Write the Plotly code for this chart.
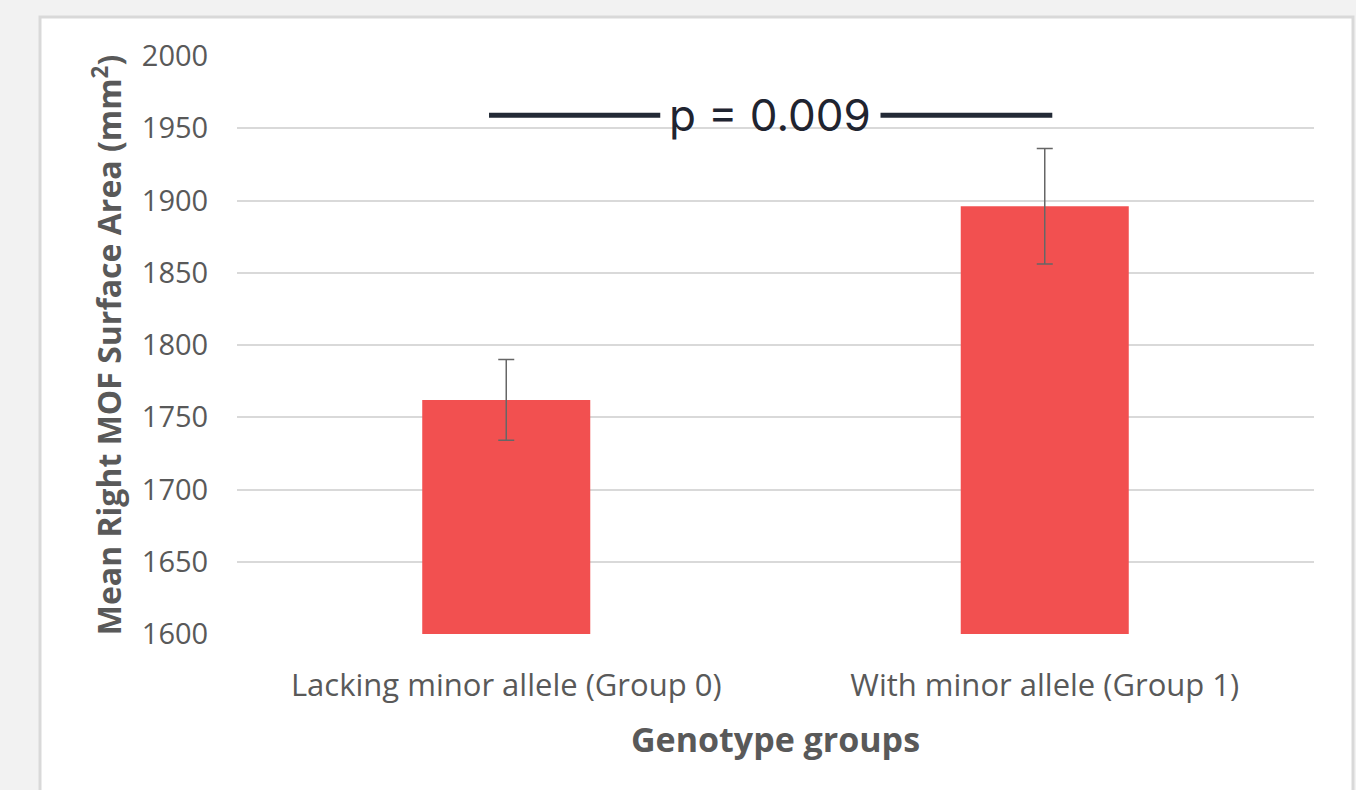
import plotly.graph_objects as go

categories = ["Lacking minor allele (Group 0)", "With minor allele (Group 1)"]
means = [1762, 1896]
errors = [28, 40]
y_ticks = [1600, 1650, 1700, 1750, 1800, 1850, 1900, 1950, 2000]
p_label = "p = 0.009"
p_line_y = 1959

W, H = 1356, 790
L, R, T, B = 237, 42, 56, 156
pw, ph = W - L - R, H - T - B

def px(xp):
    return (xp - L) / pw

def py(yp):
    return (H - B - yp) / ph

fig = go.Figure()
fig.add_trace(go.Bar(
    x=categories, y=means,
    marker=dict(color="#F25050", line=dict(width=0)),
    error_y=dict(type="data", array=errors, visible=True,
                 color="#666666", thickness=1.5, width=8),
    width=0.312,
))

shapes = [
    dict(type="rect", xref="paper", yref="paper", layer="below",
         x0=px(40), x1=px(1353), y0=py(830), y1=py(17),
         fillcolor="white", line=dict(color="#d9d9d9", width=3)),
    dict(type="line", xref="x", yref="y", x0=-0.032, x1=0.286,
         y0=p_line_y, y1=p_line_y, line=dict(color="#232a36", width=5)),
    dict(type="line", xref="x", yref="y", x0=0.695, x1=1.014,
         y0=p_line_y, y1=p_line_y, line=dict(color="#232a36", width=5)),
]

fig.update_layout(
    width=W, height=H,
    margin=dict(l=L, r=R, t=T, b=B, autoexpand=False),
    paper_bgcolor="#f2f2f2", plot_bgcolor="white",
    showlegend=False,
    shapes=shapes,
    font=dict(family="Open Sans", color="#595959"),
    annotations=[dict(x=0.49, y=p_line_y, xref="x", yref="y", text=p_label,
                      showarrow=False, xanchor="center", yanchor="middle",
                      font=dict(family="Inter", size=44, color="#1f2430"))],
)
fig.update_xaxes(
    type="category", range=[-0.5, 1.5],
    showgrid=False, showline=False, zeroline=False,
    tickfont=dict(size=31, color="#595959"),
    ticks="outside", ticklen=24, tickcolor="rgba(0,0,0,0)",
    title=dict(text="Genotype groups", font=dict(size=34, color="#595959", family="Open Sans", weight="bold"), standoff=23),
)
fig.update_yaxes(
    range=[1600, 2000], tickvals=y_ticks,
    showgrid=True, gridcolor="#d9d9d9", gridwidth=2,
    zeroline=False, showline=False,
    tickfont=dict(size=29, color="#595959"),
    ticks="outside", ticklen=22, tickcolor="rgba(0,0,0,0)",
    title=dict(text="Mean Right MOF Surface Area (mm<sup>2</sup>)", font=dict(size=32, color="#595959", family="Open Sans", weight="bold"), standoff=10),
)

fig.write_html(
    "out.html",
    config={"displayModeBar": False},
    post_script="document.body.style.margin='0';document.body.style.overflow='hidden';document.body.style.background='#f2f2f2';",
)
